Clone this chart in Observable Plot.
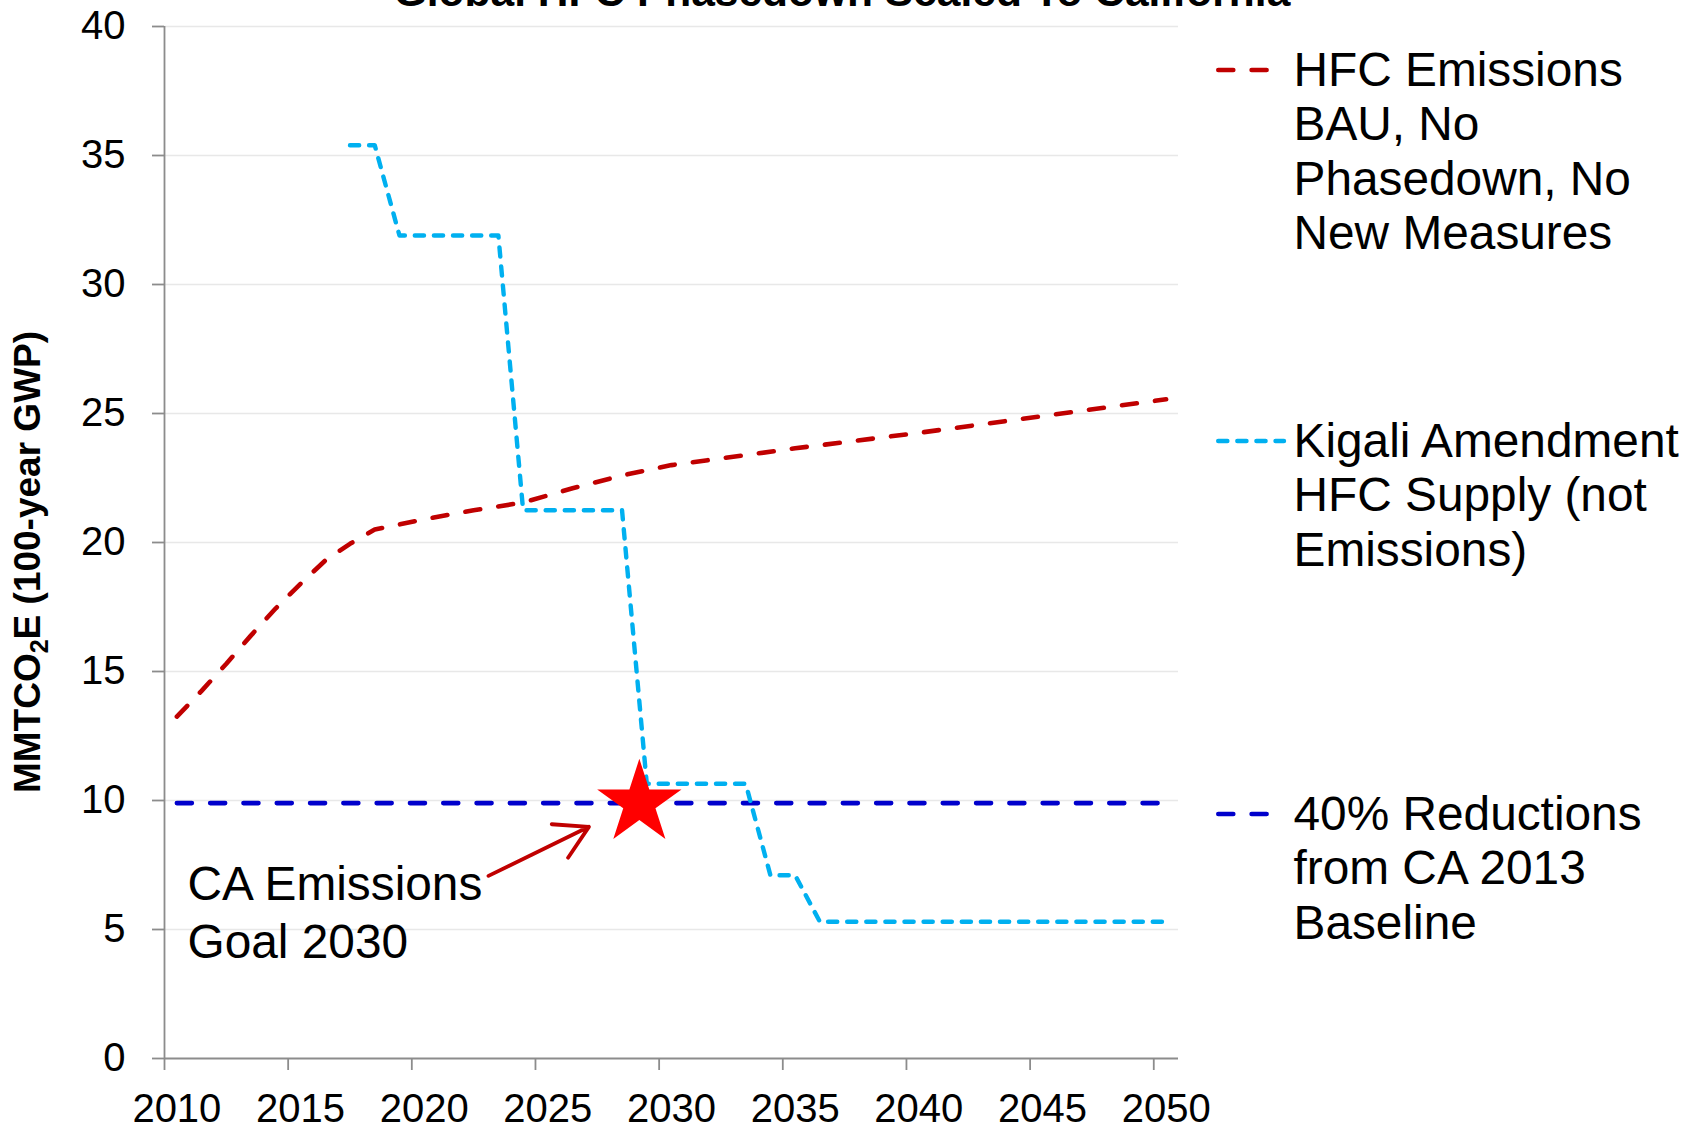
<!DOCTYPE html>
<html>
<head>
<meta charset="utf-8">
<script src="https://cdn.jsdelivr.net/npm/d3@7"></script>
<script src="https://cdn.jsdelivr.net/npm/@observablehq/plot@0.6"></script>
<style>
  html, body { margin: 0; padding: 0; background: #fff; }
  body {
    width: 1703px; height: 1128px; overflow: hidden; position: relative;
    font-family: "Liberation Sans", Arial, sans-serif; color: #000;
  }
  #chart { position: absolute; left: 0; top: 0; }
  .title {
    position: absolute; left: 842px; top: -29px; transform: translateX(-50%);
    font-size: 42.5px; line-height: 42.5px; font-weight: bold; white-space: nowrap;
  }
  .legend-item { position: absolute; left: 1216px; width: 480px; }
  .legend-item svg { position: absolute; left: 0; overflow: visible; }
  .legend-item .label {
    position: absolute; left: 77.5px; top: 0;
    font-size: 47.8px; line-height: 54.5px; white-space: nowrap;
  }
</style>
</head>
<body>
<div class="title">Global HFC Phasedown Scaled To California</div>
<div id="chart"></div>
<script>
// ---- data (MMTCO2E, 100-year GWP) ----
const bauYears  = [2010, 2011, 2012, 2013, 2014, 2015, 2016, 2017, 2018, 2019, 2020, 2022, 2024, 2026, 2028, 2030, 2035, 2040, 2045, 2050];
const bauValues = [13.25, 14.25, 15.3, 16.4, 17.45, 18.4, 19.3, 19.95, 20.5, 20.7, 20.9, 21.25, 21.55, 22.1, 22.6, 23.0, 23.65, 24.25, 24.9, 25.55];

const kigaliYears  = [2017, 2018, 2019, 2020, 2021, 2022, 2023, 2024, 2025, 2026, 2027, 2028, 2029, 2030, 2031, 2032, 2033, 2034, 2035,
                      2036, 2037, 2038, 2039, 2040, 2041, 2042, 2043, 2044, 2045, 2046, 2047, 2048, 2049, 2050];
const kigaliValues = [35.4, 35.4, 31.9, 31.9, 31.9, 31.9, 31.9, 21.25, 21.25, 21.25, 21.25, 21.25, 10.65, 10.65, 10.65, 10.65, 10.65, 7.1, 7.1,
                      5.3, 5.3, 5.3, 5.3, 5.3, 5.3, 5.3, 5.3, 5.3, 5.3, 5.3, 5.3, 5.3, 5.3, 5.3];

const targetYears = [2010, 2050];
const targetValue = 9.9;   // 40% below the CA 2013 baseline

const yTicks = [0, 5, 10, 15, 20, 25, 30, 35, 40];
const xTickLabels = [2010, 2015, 2020, 2025, 2030, 2035, 2040, 2045, 2050];

const goalStar  = [{year: 2028.7, value: 9.9}];
const goalArrow = [{fromYear: 2022.6, fromValue: 7.08, toYear: 2026.66, toValue: 8.98}];
const goalNote  = [{year: 2010.43, value: 3.91, text: "CA Emissions\nGoal 2030"}];

const seriesNames  = ["HFC Emissions\nBAU, No\nPhasedown, No\nNew Measures",
                      "Kigali Amendment\nHFC Supply (not\nEmissions)",
                      "40% Reductions\nfrom CA 2013\nBaseline"];

// ---- styles ----
const RED = "#C00000", CYAN = "#00B0F0", NAVY = "#0000CC", AXIS = "#8c8c8c", GRID = "#e8e8e8";
const dashStyle = {strokeWidth: 4.6, strokeDasharray: "15,18.3", strokeLinecap: "round", strokeLinejoin: "round"};
const dotStyle  = {strokeWidth: 4.4, strokeDasharray: "9.2,9.9", strokeLinecap: "round", strokeLinejoin: "round"};

const bau    = bauYears.map((year, i) => ({year, value: bauValues[i]}));
const kigali = kigaliYears.map((year, i) => ({year, value: kigaliValues[i]}));
const target = targetYears.map(year => ({year, value: targetValue}));

// each year is a category slot; tick marks sit on the slot boundaries
const tickBoundaries = xTickLabels.map(d => d - 0.5);

const chart = Plot.plot({
  width: 1703,
  height: 1128,
  marginLeft: 164,
  marginRight: 525,
  marginTop: 26,
  marginBottom: 70,
  x: {domain: [2009.5, 2050.5]},
  y: {domain: [0, 40]},
  style: {fontFamily: "'Liberation Sans', Arial, sans-serif", fontSize: "40px", color: "#000", background: "transparent"},
  marks: [
    Plot.ruleY(yTicks.filter(d => d > 0), {stroke: GRID, strokeWidth: 1.6}),
    Plot.ruleX([2009.5], {stroke: AXIS, strokeWidth: 1.8}),
    Plot.ruleY([0], {stroke: AXIS, strokeWidth: 1.8}),
    Plot.axisY({ticks: yTicks, tickSize: 12, tickPadding: 27, stroke: AXIS, strokeWidth: 1.8, fill: "#000", label: null}),
    Plot.axisX({ticks: tickBoundaries, tickSize: 12, tickFormat: () => "", stroke: AXIS, strokeWidth: 1.8, label: null}),
    Plot.axisX({ticks: xTickLabels, tickSize: 0, tickPadding: 35, tickFormat: d => String(d), fill: "#000", label: null}),
    Plot.line(target, {x: "year", y: "value", stroke: NAVY, ...dashStyle}),
    Plot.line(kigali, {x: "year", y: "value", stroke: CYAN, ...dotStyle}),
    Plot.line(bau, {x: "year", y: "value", stroke: RED, ...dashStyle}),
    Plot.arrow(goalArrow, {x1: "fromYear", y1: "fromValue", x2: "toYear", y2: "toValue",
                           stroke: RED, strokeWidth: 3.8, headLength: 21}),
    Plot.dot(goalStar, {x: "year", y: "value", symbol: "star", r: 26.5, fill: "#FF0000", stroke: "none"}),
    Plot.text(goalNote, {x: "year", y: "value", text: "text", textAnchor: "start", lineAnchor: "bottom",
                         lineHeight: 1.21, fontSize: 47.8, fill: "#000"})
  ]
});
document.getElementById("chart").appendChild(chart);

// rotated y-axis title with a subscript 2
const yTitle = d3.select(chart).append("text")
  .attr("transform", "translate(40,562) rotate(-90)")
  .attr("text-anchor", "middle")
  .style("font-weight", "bold")
  .style("font-size", "37px")
  .attr("fill", "#000");
yTitle.append("tspan").text("MMTCO");
yTitle.append("tspan").style("font-size", "25px").attr("dy", 8).text("2");
yTitle.append("tspan").attr("dy", -8).text("E (100-year GWP)");

// legend to the right of the plot area
const legendTops = [42.8, 413.8, 786.8];
const legendStrokes = [
  {stroke: RED, ...dashStyle, x2: 51},
  {stroke: CYAN, ...dotStyle, x2: 68},
  {stroke: NAVY, ...dashStyle, x2: 51}
];
seriesNames.forEach((name, i) => {
  const item = d3.select("body").append("div").attr("class", "legend-item").style("top", legendTops[i] + "px");
  const s = legendStrokes[i];
  item.append("svg").attr("width", 80).attr("height", 10).style("top", (43.7 - 16.8 - 5) + "px")
    .append("line")
      .attr("x1", s.strokeWidth / 2).attr("x2", s.x2).attr("y1", 5).attr("y2", 5)
      .attr("stroke", s.stroke).attr("stroke-width", s.strokeWidth)
      .attr("stroke-dasharray", s.strokeDasharray).attr("stroke-linecap", "round");
  const label = item.append("div").attr("class", "label");
  name.split("\n").forEach(line => label.append("div").text(line));
});
</script>
</body>
</html>
